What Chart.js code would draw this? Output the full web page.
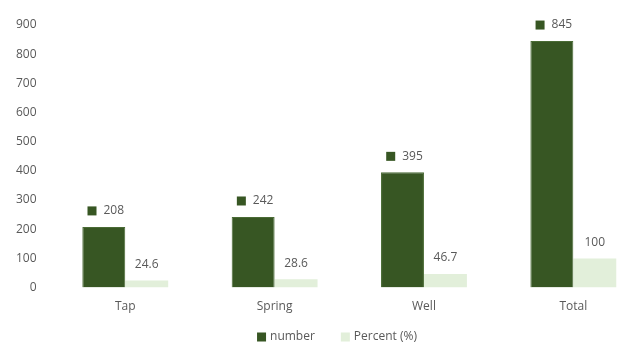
<!DOCTYPE html>
<html>
<head>
<meta charset="utf-8">
<script src="https://cdn.jsdelivr.net/npm/chart.js@4"></script>
<style>
  html, body { margin: 0; padding: 0; background: #fff; overflow: hidden; }
  #wrap { width: 617px; height: 345px; overflow: hidden; }
</style>
</head>
<body>
<div id="wrap"><canvas id="chart" width="672" height="345"></canvas></div>
<script>
const categories = ['Tap', 'Spring', 'Well', 'Total'];
const numberValues = [208, 242, 395, 845];
const percentValues = [24.6, 28.6, 46.7, 100];
const seriesNames = ['number', 'Percent (%)'];

const darkGreen = '#375623';
const lightGreen = '#E2EFDA';
const textColor = '#595959';
const fontFamily = "'Open Sans', 'Noto Sans', sans-serif";

// value labels above bars, with a small key square for the first series
const valueLabels = {
  id: 'valueLabels',
  afterDatasetsDraw(chart) {
    const ctx = chart.ctx;
    ctx.save();
    ctx.font = '12px ' + fontFamily;
    ctx.fillStyle = textColor;
    ctx.textBaseline = 'middle';
    chart.data.datasets.forEach((ds, di) => {
      const meta = chart.getDatasetMeta(di);
      meta.data.forEach((bar, i) => {
        const txt = String(ds.data[i]);
        const w = ctx.measureText(txt).width;
        const y = bar.y - 16;
        if (di === 0) {
          const total = 9 + 7 + w;
          const left = bar.x - total / 2 + 2;
          ctx.fillStyle = darkGreen;
          ctx.fillRect(left, y - 4.5, 9, 9);
          ctx.fillStyle = textColor;
          ctx.textAlign = 'left';
          ctx.fillText(txt, left + 16, y);
        } else {
          ctx.textAlign = 'center';
          ctx.fillText(txt, bar.x, y);
        }
      });
    });
    ctx.restore();
  }
};

// Excel-style legend under the axis, centred at x=337 of the visible area
const bottomLegend = {
  id: 'bottomLegend',
  afterDraw(chart) {
    const ctx = chart.ctx;
    ctx.save();
    ctx.font = '12px ' + fontFamily;
    ctx.textBaseline = 'middle';
    ctx.textAlign = 'left';
    const items = chart.data.datasets.map(ds => ({ text: ds.label, color: ds.backgroundColor, w: ctx.measureText(ds.label).width }));
    const box = 9, gap = 4, between = 26;
    let total = 0;
    items.forEach((it, i) => { total += box + gap + it.w + (i ? between : 0); });
    let x = 337 - total / 2;
    const y = 337;
    items.forEach(it => {
      ctx.fillStyle = it.color;
      ctx.fillRect(x, y - 4.5, box, box);
      ctx.fillStyle = textColor;
      ctx.fillText(it.text, x + box + gap, y);
      x += box + gap + it.w + between;
    });
    ctx.restore();
  }
};

new Chart(document.getElementById('chart'), {
  type: 'bar',
  data: {
    labels: categories,
    datasets: [
      {
        label: seriesNames[0],
        data: numberValues,
        backgroundColor: darkGreen,
        borderColor: '#4a6b35',
        borderWidth: 1,
        categoryPercentage: 0.575,
        barPercentage: 1
      },
      {
        label: seriesNames[1],
        data: percentValues,
        backgroundColor: lightGreen,
        borderWidth: 0,
        categoryPercentage: 0.575,
        barPercentage: 1
      }
    ]
  },
  options: {
    responsive: false,
    animation: false,
    layout: { padding: { top: 25, right: 24, left: 2, bottom: 19 } },
    scales: {
      x: {
        grid: { display: false, drawTicks: false },
        border: { display: false },
        ticks: { color: textColor, font: { size: 12, family: fontFamily }, padding: 12 }
      },
      y: {
        min: 0,
        max: 900,
        grid: { display: false, drawTicks: false },
        border: { display: false },
        ticks: { stepSize: 100, color: textColor, font: { size: 12, family: fontFamily }, padding: 14 }
      }
    },
    plugins: {
      tooltip: { enabled: false },
      legend: { display: false }
    }
  },
  plugins: [valueLabels, bottomLegend]
});
</script>
</body>
</html>
